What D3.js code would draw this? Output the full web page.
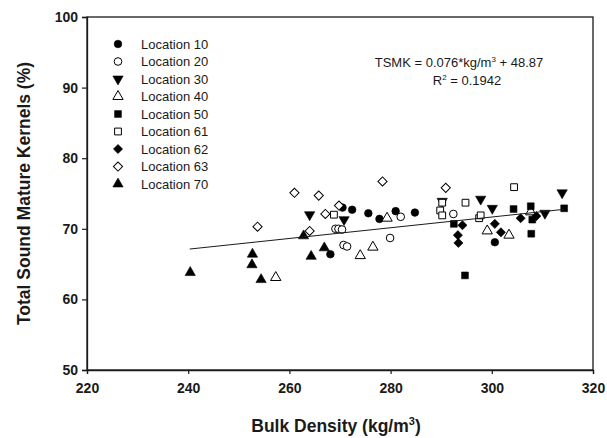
<!DOCTYPE html>
<html>
<head>
<meta charset="utf-8">
<script src="https://cdn.jsdelivr.net/npm/d3@7"></script>
<style>
  body { margin: 0; background: #fff; }
  svg { display: block; font-family: "Liberation Sans", Arial, sans-serif; }
</style>
</head>
<body>
<div id="chart"></div>
<script>
// Bulk density (kg/m3) vs total sound mature kernels (%), one array per location
const loc10 = [[272.4, 72.7], [270.5, 73.0], [275.6, 72.2], [277.8, 71.4], [281.0, 72.5], [284.8, 72.3], [268.1, 66.4], [300.6, 68.1]];
const loc20 = [[269.1, 70.0], [269.7, 70.0], [270.4, 69.9], [270.7, 67.7], [271.4, 67.5], [279.9, 68.7], [282.0, 71.7], [292.4, 72.1]];
const loc30 = [[264.0, 72.0], [270.8, 71.3], [290.2, 73.9], [297.8, 74.2], [300.1, 72.9], [310.5, 72.2], [313.9, 75.1]];
const loc40 = [[257.3, 63.1], [274.0, 66.2], [276.5, 67.4], [279.3, 71.5], [299.1, 69.7], [303.4, 69.1], [307.7, 72.4]];
const loc50 = [[292.5, 70.7], [294.7, 63.4], [304.3, 72.8], [307.7, 73.2], [308.0, 71.3], [307.8, 69.3], [314.3, 72.9]];
const loc61 = [[268.8, 72.0], [289.8, 72.6], [290.2, 73.7], [290.2, 71.9], [294.8, 73.7], [297.5, 71.5], [297.8, 71.9], [304.4, 75.9]];
const loc62 = [[293.3, 69.1], [293.4, 68.0], [294.2, 70.5], [300.6, 70.7], [301.8, 69.5], [305.7, 71.5], [308.8, 71.8]];
const loc63 = [[253.7, 70.3], [261.0, 75.1], [264.0, 69.7], [265.8, 74.7], [267.1, 72.1], [269.8, 73.3], [278.4, 76.7], [290.9, 75.8]];
const loc70 = [[240.4, 63.8], [252.7, 66.4], [252.6, 64.9], [254.4, 62.8], [262.8, 69.0], [264.3, 66.1], [266.9, 67.3]];

const seriesNames = ["Location 10", "Location 20", "Location 30", "Location 40", "Location 50", "Location 61", "Location 62", "Location 63", "Location 70"];
const seriesData = [loc10, loc20, loc30, loc40, loc50, loc61, loc62, loc63, loc70];
// marker shape + filled?
const seriesShape = ["circle", "circle", "down", "up", "square", "square", "diamond", "diamond", "up"];
const seriesFilled = [true, false, true, false, true, false, true, false, true];

const xTicks = [220, 240, 260, 280, 300, 320];
const yTicks = [50, 60, 70, 80, 90, 100];

// regression: TSMK = 0.076*kg/m3 + 48.87
const slope = 0.076, intercept = 48.87;
const fitRange = [240.3, 314.3];

const W = 607, H = 438;
const margin = { top: 17, right: 14, bottom: 68, left: 87 };
const innerW = W - margin.left - margin.right;
const innerH = H - margin.top - margin.bottom;
const ink = "#1a1a1a";

const svg = d3.select("#chart").append("svg").attr("width", W).attr("height", H);
const g = svg.append("g").attr("transform", `translate(${margin.left},${margin.top})`);

const x = d3.scaleLinear().domain([220, 320]).range([0, innerW]);
const y = d3.scaleLinear().domain([50, 100]).range([innerH, 0]);

// frame
g.append("rect").attr("width", innerW).attr("height", innerH)
    .attr("fill", "none").attr("stroke", ink).attr("stroke-width", 1.3);

const xAxis = g.append("g").attr("transform", `translate(0,${innerH})`)
    .call(d3.axisBottom(x).tickValues(xTicks).tickSize(4).tickPadding(6));
const yAxis = g.append("g")
    .call(d3.axisLeft(y).tickValues(yTicks).tickSize(5).tickPadding(4));
[xAxis, yAxis].forEach(a => {
    a.select(".domain").attr("stroke", ink).attr("stroke-width", 1.3);
    a.selectAll(".tick line").attr("stroke", ink).attr("stroke-width", 1.2);
    a.selectAll(".tick text").attr("fill", ink)
        .style("font-size", "14px").style("font-weight", "700")
        .style("font-family", "'Liberation Sans', Arial, sans-serif");
});
xAxis.selectAll(".tick text").attr("dy", "0.95em");

// axis titles
const xTitle = svg.append("text").attr("x", margin.left + innerW / 2 - 4).attr("y", 432)
    .attr("text-anchor", "middle").attr("fill", ink)
    .style("font-size", "17.5px").style("font-weight", "700");
xTitle.append("tspan").text("Bulk Density (kg/m");
xTitle.append("tspan").attr("dy", -7).style("font-size", "11px").text("3");
xTitle.append("tspan").attr("dy", 7).text(")");

svg.append("text").attr("transform", `translate(30,${margin.top + innerH / 2}) rotate(-90)`)
    .attr("text-anchor", "middle").attr("fill", ink)
    .style("font-size", "17.5px").style("font-weight", "700")
    .text("Total Sound Mature Kernels (%)");

// marker drawing
function symbolPath(shape) {
    if (shape === "circle") return d3.symbol(d3.symbolCircle, 46)();
    if (shape === "square") return d3.symbol(d3.symbolSquare, 46)();
    if (shape === "diamond") return d3.symbol(d3.symbolSquare, 42)();
    return d3.symbol(d3.symbolTriangle, 46)();
}
function symbolRotate(shape) {
    if (shape === "diamond") return 45;
    if (shape === "down") return 180;
    return 0;
}
function drawMarker(sel, i) {
    const shape = seriesShape[i];
    sel.append("path")
        .attr("d", symbolPath(shape))
        .attr("fill", seriesFilled[i] ? "#000" : "#fff")
        .attr("stroke", "#000")
        .attr("stroke-width", seriesFilled[i] ? 0.6 : 1)
        .attr("transform", `rotate(${symbolRotate(shape)})`);
}

// points
seriesData.forEach((pts, i) => {
    g.append("g").selectAll("g").data(pts).enter().append("g")
        .attr("transform", d => `translate(${x(d[0])},${y(d[1])})`)
        .each(function () { drawMarker(d3.select(this), i); });
});

// regression line
g.append("line")
    .attr("x1", x(fitRange[0])).attr("y1", y(slope * fitRange[0] + intercept))
    .attr("x2", x(fitRange[1])).attr("y2", y(slope * fitRange[1] + intercept))
    .attr("stroke", ink).attr("stroke-width", 1);

// legend
const legend = svg.append("g").attr("transform", "translate(118,44)");
seriesNames.forEach((name, i) => {
    const row = legend.append("g").attr("transform", `translate(0,${i * 17.5})`);
    drawMarker(row, i);
    row.append("text").attr("x", 23).attr("y", 4.5).attr("fill", ink)
        .style("font-size", "13px").text(name);
});

// equation
const eq = svg.append("text").attr("x", 459).attr("y", 67).attr("text-anchor", "middle")
    .attr("fill", ink).style("font-size", "13px");
eq.append("tspan").text("TSMK = 0.076*kg/m");
eq.append("tspan").attr("dy", -5).style("font-size", "8px").text("3");
eq.append("tspan").attr("dy", 5).text(" + 48.87");
const r2 = svg.append("text").attr("x", 467).attr("y", 85).attr("text-anchor", "middle")
    .attr("fill", ink).style("font-size", "13px");
r2.append("tspan").text("R");
r2.append("tspan").attr("dy", -5).style("font-size", "8px").text("2");
r2.append("tspan").attr("dy", 5).text(" = 0.1942");
</script>
</body>
</html>
